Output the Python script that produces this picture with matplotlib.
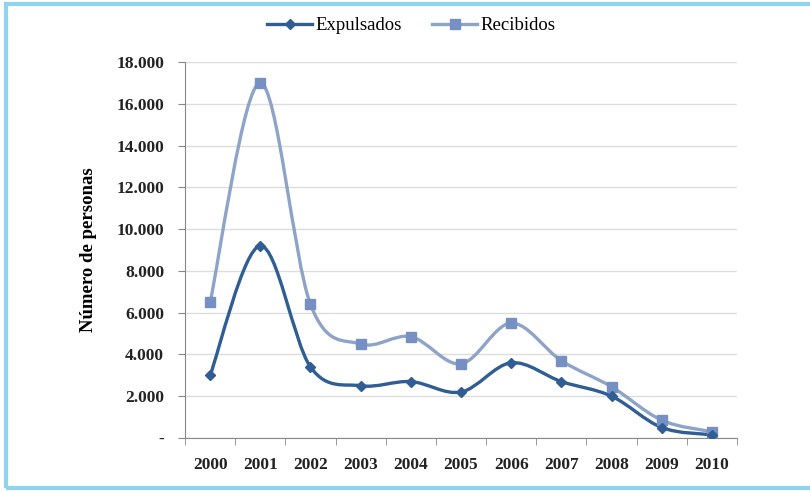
import matplotlib.pyplot as plt
from matplotlib.path import Path
from matplotlib.patches import PathPatch, Rectangle
from matplotlib.font_manager import FontProperties
from matplotlib.ticker import FuncFormatter, MultipleLocator
import numpy as np

years = ['2000', '2001', '2002', '2003', '2004', '2005', '2006', '2007', '2008', '2009', '2010']
expulsados = [3000, 9200, 3400, 2500, 2700, 2200, 3600, 2700, 2000, 500, 150]
recibidos = [6500, 17000, 6400, 4500, 4850, 3550, 5500, 3700, 2450, 850, 300]

c_exp = '#2f5d94'
c_rec = '#8ea3c8'
c_rec_mk = '#7690c4'
serif = 'Liberation Serif'


def smooth_path(x, y):
    # Excel-style smoothed line: cubic Bezier segments with Catmull-Rom tangents
    x = np.asarray(x, float)
    y = np.asarray(y, float)
    n = len(x)
    verts = [(x[0], y[0])]
    codes = [Path.MOVETO]
    for i in range(n - 1):
        p0 = i - 1 if i > 0 else i
        p3 = i + 2 if i + 2 < n else i + 1
        c1 = (x[i] + (x[i + 1] - x[p0]) / 6, y[i] + (y[i + 1] - y[p0]) / 6)
        c2 = (x[i + 1] - (x[p3] - x[i]) / 6, y[i + 1] - (y[p3] - y[i]) / 6)
        verts += [c1, c2, (x[i + 1], y[i + 1])]
        codes += [Path.CURVE4] * 3
    return Path(verts, codes)


fig = plt.figure(figsize=(8.1, 4.92), dpi=100)
ax = fig.add_axes([0.2284, 0.1098, 0.6815, 0.7642])

xs = np.arange(len(years))
for vals, col, mcol, mk, ms in [(recibidos, c_rec, c_rec_mk, 's', 6.5),
                                (expulsados, c_exp, c_exp, 'D', 5)]:
    ax.add_patch(PathPatch(smooth_path(xs, vals), facecolor='none', edgecolor=col, lw=2.4, zorder=3))
    ax.plot(xs, vals, linestyle='none', marker=mk, color=mcol, markersize=ms, zorder=4)

ax.set_xlim(-0.5, 10.5)
ax.set_ylim(0, 18000)
ax.yaxis.set_major_locator(MultipleLocator(2000))
ax.yaxis.set_major_formatter(FuncFormatter(lambda v, p: '-' if v == 0 else f'{int(v):,}'.replace(',', '.')))
ax.set_xticks(xs)
ax.set_xticklabels(years)
ax.set_xticks(np.arange(-0.5, 11, 1), minor=True)
ax.tick_params(axis='x', which='major', length=0, pad=14)
ax.tick_params(axis='x', which='minor', length=5, color='#888888')
ax.tick_params(axis='y', length=5, color='#888888', pad=10)
for lbl in ax.get_xticklabels() + ax.get_yticklabels():
    lbl.set_fontfamily(serif)
    lbl.set_fontweight('bold')
    lbl.set_fontsize(12.5)
    lbl.set_color('#222222')

ax.grid(axis='y', color='#dddddd', lw=1)
ax.set_axisbelow(True)
for s in ['top', 'right']:
    ax.spines[s].set_visible(False)
for s in ['left', 'bottom']:
    ax.spines[s].set_color('#888888')

ax.set_ylabel('Número de personas', family=serif, fontweight='bold', fontsize=13.5, labelpad=14)

h_exp, = ax.plot([], [], color=c_exp, lw=2.4, marker='D', markersize=5)
h_rec, = ax.plot([], [], color=c_rec, lw=2.4, marker='s', markersize=6.5,
                 markerfacecolor=c_rec_mk, markeredgecolor=c_rec_mk)
fig.legend([h_exp, h_rec], ['Expulsados', 'Recibidos'], loc='center', bbox_to_anchor=(0.508, 0.948),
           ncol=2, frameon=False, handlelength=2.4, handletextpad=0.2, columnspacing=1.6,
           prop=FontProperties(family=serif, size=13.5))

# light blue frame around the picture
fig.patches.append(Rectangle((0.0075, 0.008), 1.2, 0.984, transform=fig.transFigure,
                             fill=False, edgecolor='#8fd4ef', lw=3))

fig.savefig('out.png', dpi=100)
